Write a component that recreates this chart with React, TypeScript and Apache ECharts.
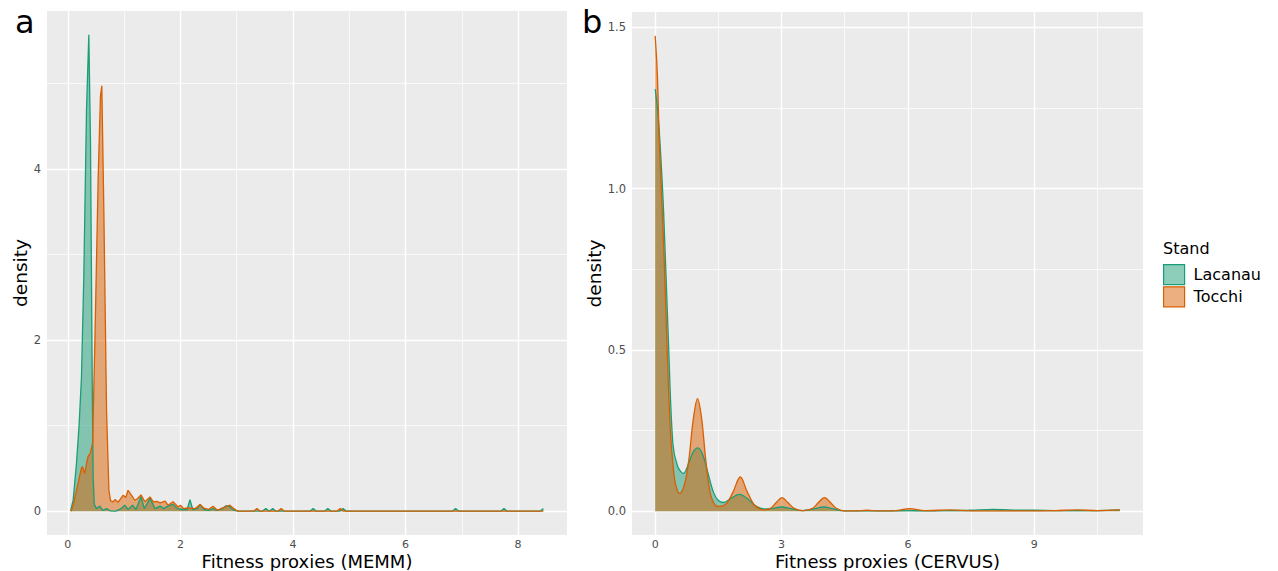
import { useEffect, useRef } from "react";
import * as echarts from "echarts";

const FONT = "DejaVu Sans";

const standNames = ["Lacanau", "Tocchi"];
const standColors = ["#1B9E77", "#D95F02"];
const standFills = ["rgba(27,158,119,0.5)", "rgba(217,95,2,0.5)"];

// Panel a: Fitness proxies (MEMM) densities [x, density]
const memmLacanau: [number, number][] = [
  [0.05, 0.0], [0.065, 0.05], [0.095, 0.13], [0.154, 0.56], [0.2, 1.0], [0.243, 1.57],
  [0.284, 2.74], [0.332, 4.69], [0.373, 5.567], [0.403, 4.3], [0.433, 1.57], [0.45, 0.4],
  [0.47, 0.08], [0.51, 0.03], [0.57, 0.06], [0.62, 0.01], [0.69, 0.03], [0.75, 0.005],
  [0.85, 0.0], [0.95, 0.03], [1.01, 0.07], [1.07, 0.02], [1.15, 0.07], [1.21, 0.02],
  [1.3, 0.17], [1.36, 0.03], [1.46, 0.15], [1.55, 0.03], [1.64, 0.06], [1.7, 0.03],
  [1.78, 0.06], [1.87, 0.08], [1.95, 0.03], [2.05, 0.02], [2.12, 0.02], [2.17, 0.136],
  [2.22, 0.02], [2.3, 0.03], [2.35, 0.08], [2.42, 0.02], [2.5, 0.01], [2.58, 0.03],
  [2.65, 0.01], [2.75, 0.03], [2.81, 0.065], [2.88, 0.05], [2.95, 0.01], [3.05, 0.0],
  [3.45, 0.0], [3.52, 0.03], [3.58, 0.0], [3.64, 0.03], [3.7, 0.0], [4.3, 0.0],
  [4.36, 0.03], [4.42, 0.0], [4.56, 0.0], [4.62, 0.03], [4.68, 0.0], [4.83, 0.0],
  [4.89, 0.03], [4.95, 0.0], [6.83, 0.0], [6.89, 0.03], [6.95, 0.0], [7.69, 0.0],
  [7.75, 0.03], [7.81, 0.0], [8.39, 0.0], [8.45, 0.03],
];

const memmTocchi: [number, number][] = [
  [0.06, 0.0], [0.1, 0.08], [0.154, 0.245], [0.2, 0.38], [0.24, 0.5], [0.26, 0.52],
  [0.3, 0.44], [0.33, 0.55], [0.36, 0.64], [0.4, 0.68], [0.44, 0.79], [0.48, 1.96],
  [0.54, 3.91], [0.58, 4.85], [0.604, 4.97], [0.64, 3.52], [0.688, 1.18], [0.73, 0.245],
  [0.76, 0.12], [0.806, 0.11], [0.836, 0.136], [0.895, 0.105], [0.984, 0.187], [1.03, 0.16],
  [1.07, 0.245], [1.13, 0.187], [1.19, 0.128], [1.24, 0.148], [1.3, 0.19], [1.37, 0.11],
  [1.46, 0.167], [1.52, 0.11], [1.58, 0.115], [1.64, 0.097], [1.73, 0.117], [1.78, 0.07],
  [1.87, 0.11], [1.96, 0.05], [2.0, 0.07], [2.06, 0.03], [2.12, 0.04], [2.2, 0.035],
  [2.26, 0.03], [2.35, 0.078], [2.42, 0.035], [2.5, 0.02], [2.58, 0.058], [2.66, 0.01],
  [2.75, 0.04], [2.81, 0.05], [2.88, 0.07], [2.95, 0.03], [3.02, 0.0], [3.3, 0.0],
  [3.36, 0.03], [3.42, 0.0], [3.73, 0.0], [3.79, 0.03], [3.85, 0.0], [4.78, 0.0],
  [4.84, 0.03], [4.9, 0.0], [8.45, 0.0],
];

// Panel b: Fitness proxies (CERVUS) densities [x, density]
const cervusLacanau: [number, number][] = [
  [0, 1.308], [0.06, 1.24], [0.12, 1.13], [0.2, 0.93], [0.317, 0.52], [0.42, 0.21],
  [0.53, 0.14], [0.67, 0.117], [0.8, 0.15], [0.9, 0.183], [1.01, 0.196], [1.12, 0.178],
  [1.25, 0.12], [1.38, 0.06], [1.5, 0.033], [1.62, 0.027], [1.8, 0.04], [2.0, 0.052],
  [2.2, 0.038], [2.4, 0.015], [2.6, 0.007], [2.8, 0.009], [3.0, 0.013], [3.2, 0.009],
  [3.5, 0.002], [3.8, 0.008], [4.0, 0.013], [4.2, 0.008], [4.5, 0.001], [5.0, 0.001],
  [5.5, 0.001], [6.0, 0.002], [6.5, 0.001], [7.0, 0.002], [7.5, 0.003], [8.0, 0.006],
  [8.5, 0.003], [9.0, 0.003], [9.5, 0.002], [10.0, 0.002], [10.5, 0.002], [11.03, 0.004],
];

const cervusTocchi: [number, number][] = [
  [0, 1.473], [0.05, 1.36], [0.1, 1.14], [0.2, 0.83], [0.28, 0.52], [0.356, 0.26],
  [0.435, 0.127], [0.5, 0.075], [0.58, 0.055], [0.7, 0.085], [0.8, 0.16], [0.9, 0.28],
  [1.005, 0.349], [1.1, 0.29], [1.2, 0.16], [1.3, 0.06], [1.42, 0.02], [1.55, 0.015],
  [1.7, 0.025], [1.85, 0.06], [2.02, 0.106], [2.18, 0.062], [2.35, 0.02], [2.5, 0.006],
  [2.6, 0.004], [2.75, 0.01], [2.88, 0.028], [3.01, 0.042], [3.15, 0.027], [3.3, 0.009],
  [3.5, 0.002], [3.75, 0.01], [3.88, 0.028], [4.02, 0.042], [4.16, 0.027], [4.3, 0.009],
  [4.5, 0.001], [4.75, 0.001], [5.03, 0.003], [5.3, 0.001], [5.7, 0.002], [6.04, 0.008],
  [6.4, 0.002], [7.0, 0.004], [7.5, 0.001], [8.0, 0.001], [8.5, 0.001], [9.0, 0.001],
  [9.5, 0.002], [10.02, 0.004], [10.5, 0.002], [11.03, 0.004],
];

const memmXTicks = [0, 2, 4, 6, 8];
const memmXMinor = [1, 3, 5, 7];
const memmYTicks = [0, 2, 4];
const memmYMinor = [1, 3, 5];
const cervusXTicks = [0, 3, 6, 9];
const cervusXMinor = [1.5, 4.5, 7.5, 10.5];
const cervusYTicks = [0, 0.5, 1, 1.5];
const cervusYMinor = [0.25, 0.75, 1.25];

const panelLabels = ["a", "b"];
const xTitles = ["Fitness proxies (MEMM)", "Fitness proxies (CERVUS)"];
const yTitle = "density";
const legendTitle = "Stand";

function gridLines(xMajor: number[], xMinor: number[], yMajor: number[], yMinor: number[]) {
  const major = { color: "#FFFFFF", width: 1.4, type: "solid" };
  const minor = { color: "#FFFFFF", width: 0.7, type: "solid" };
  return [
    ...xMinor.map((v) => ({ xAxis: v, lineStyle: minor })),
    ...yMinor.map((v) => ({ yAxis: v, lineStyle: minor })),
    ...xMajor.map((v) => ({ xAxis: v, lineStyle: major })),
    ...yMajor.map((v) => ({ yAxis: v, lineStyle: major })),
  ];
}

function xAxisDef(idx: number, min: number, max: number, ticks: number[], name: string) {
  return {
    type: "value",
    gridIndex: idx,
    min,
    max,
    axisLine: { show: false },
    axisTick: { show: true, length: 4, lineStyle: { color: "#333333", width: 1 }, customValues: ticks },
    axisLabel: {
      customValues: ticks,
      color: "#4D4D4D",
      fontSize: 11,
      lineHeight: 11,
      fontFamily: FONT,
      margin: 4,
      formatter: (v: number) => String(v),
    },
    splitLine: { show: false },
    name,
    nameLocation: "middle",
    nameGap: 18.5,
    nameMoveOverlap: false,
    nameTextStyle: { fontSize: 18, lineHeight: 16, color: "#000000", fontFamily: FONT },
  };
}

function yAxisDef(idx: number, min: number, max: number, ticks: number[], decimals: number, gap: number) {
  return {
    type: "value",
    gridIndex: idx,
    min,
    max,
    axisLine: { show: false },
    axisTick: { show: true, length: 4, lineStyle: { color: "#333333", width: 1 }, customValues: ticks },
    axisLabel: {
      customValues: ticks,
      color: "#4D4D4D",
      fontSize: 11.5,
      fontFamily: FONT,
      margin: 6,
      formatter: (v: number) => v.toFixed(decimals),
    },
    splitLine: { show: false },
    name: yTitle,
    nameLocation: "middle",
    nameGap: gap,
    nameTextStyle: { fontSize: 18.5, color: "#000000", fontFamily: FONT },
  };
}

function densitySeries(name: string, i: number, axisIdx: number, data: [number, number][], smooth: number | boolean) {
  return {
    type: "line",
    name,
    xAxisIndex: axisIdx,
    yAxisIndex: axisIdx,
    data,
    smooth,
    showSymbol: false,
    symbol: "none",
    silent: true,
    z: 3,
    lineStyle: { color: standColors[i], width: 1.3 },
    itemStyle: { color: standColors[i] },
    areaStyle: { color: standFills[i], opacity: 1 },
  };
}

function gridSeries(axisIdx: number, lines: any[]) {
  return {
    type: "line",
    xAxisIndex: axisIdx,
    yAxisIndex: axisIdx,
    data: [],
    silent: true,
    z: 1,
    markLine: {
      silent: true,
      z: 1,
      symbol: ["none", "none"],
      label: { show: false },
      emphasis: { disabled: true },
      lineStyle: { type: "solid" },
      animation: false,
      data: lines,
    },
  };
}

export default function App() {
  const ref = useRef<HTMLDivElement>(null);

  useEffect(() => {
    if (!ref.current) return;
    const chart = echarts.init(ref.current, undefined, { renderer: "svg" });
    const option: any = {
      animation: false,
      backgroundColor: "#FFFFFF",
      textStyle: { fontFamily: FONT },
      grid: [
        {
          left: 47, top: 11, width: 520, height: 524, show: true, backgroundColor: "#EBEBEB",
          borderWidth: 0, containLabel: false, outerBoundsMode: "none",
        },
        {
          left: 632, top: 12, width: 511, height: 523, show: true, backgroundColor: "#EBEBEB",
          borderWidth: 0, containLabel: false, outerBoundsMode: "none",
        },
      ],
      xAxis: [
        xAxisDef(0, -0.37, 8.87, memmXTicks, xTitles[0]),
        xAxisDef(1, -0.55, 11.58, cervusXTicks, xTitles[1]),
      ],
      yAxis: [
        yAxisDef(0, -0.278, 5.845, memmYTicks, 0, 17),
        yAxisDef(1, -0.0737, 1.547, cervusYTicks, 1, 26),
      ],
      legend: {
        orient: "vertical",
        left: 1163,
        top: 264,
        padding: 0,
        itemWidth: 21,
        itemHeight: 20,
        itemGap: 1,
        selectedMode: false,
        icon: "rect",
        textStyle: { fontSize: 16, fontFamily: FONT, color: "#000000", padding: [0, 0, 0, 4] },
        data: standNames.map((n, i) => ({
          name: n,
          itemStyle: { color: standFills[i], borderColor: standColors[i], borderWidth: 1.2 },
        })),
      },
      graphic: [
        {
          type: "text",
          left: 1163,
          top: 240,
          style: { text: legendTitle, fontSize: 16, fontFamily: FONT, fill: "#000000" },
        },
        {
          type: "text",
          x: 15,
          y: 22,
          style: { text: panelLabels[0], fontSize: 32, fontFamily: FONT, fill: "#000000", verticalAlign: "middle" },
        },
        {
          type: "text",
          x: 582,
          y: 22,
          style: { text: panelLabels[1], fontSize: 32, fontFamily: FONT, fill: "#000000", verticalAlign: "middle" },
        },
      ],
      series: [
        gridSeries(0, gridLines(memmXTicks, memmXMinor, memmYTicks, memmYMinor)),
        gridSeries(1, gridLines(cervusXTicks, cervusXMinor, cervusYTicks, cervusYMinor)),
        densitySeries(standNames[0], 0, 0, memmLacanau, false),
        densitySeries(standNames[1], 1, 0, memmTocchi, false),
        densitySeries(standNames[0], 0, 1, cervusLacanau, 0.35),
        densitySeries(standNames[1], 1, 1, cervusTocchi, 0.35),
      ],
    };
    chart.setOption(option);
    return () => chart.dispose();
  }, []);

  return (
    <div
      ref={ref}
      style={{ position: "absolute", left: 0, top: 0, width: 1278, height: 571, background: "#FFFFFF" }}
    />
  );
}
